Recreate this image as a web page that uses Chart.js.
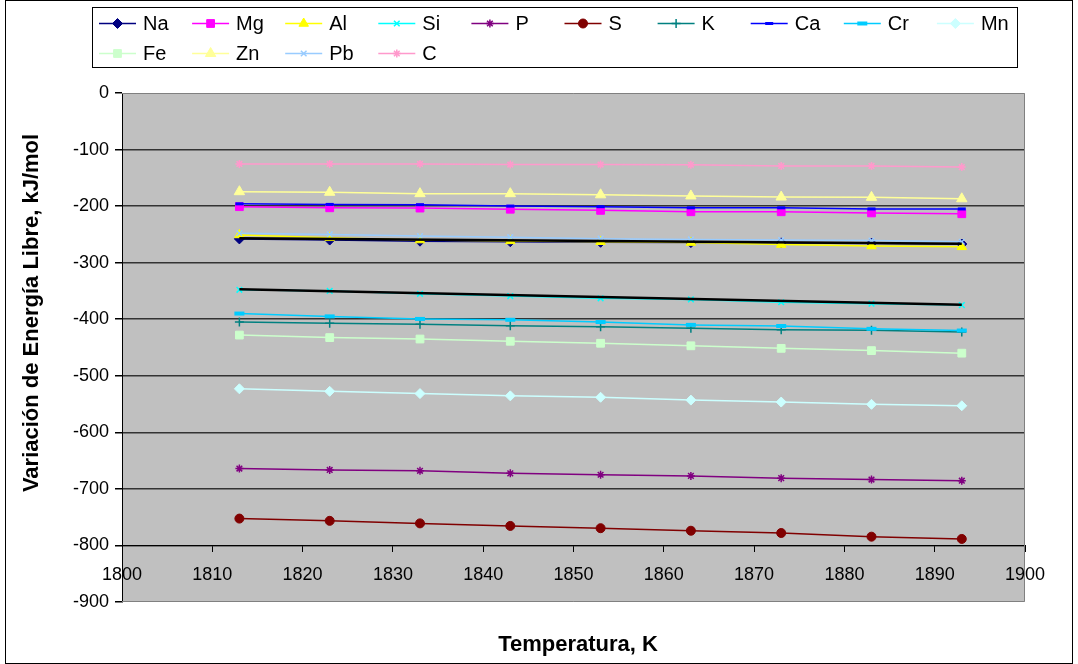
<!DOCTYPE html>
<html>
<head>
<meta charset="utf-8">
<title>Variación de Energía Libre</title>
<script src="https://cdn.jsdelivr.net/npm/chart.js"></script>
<style>
  html, body { margin: 0; padding: 0; background: #ffffff; }
  #wrap { width: 1078px; height: 664px; }
</style>
</head>
<body>
<div id="wrap"><canvas id="energyChart" width="1078" height="664"></canvas></div>
<script>
// Temperatures (K) and free-energy change (kJ/mol) per element
const temps = [1813, 1823, 1833, 1843, 1853, 1863, 1873, 1883, 1893];
const na = [-258, -260, -262, -263, -264, -264.5, -265, -265.5, -267];
const mg = [-201, -203, -203.5, -205.5, -207.5, -210, -210, -212, -213.5];
const al = [-251, -256, -260, -261.5, -263, -264.5, -268, -270.5, -272];
const si = [-348, -350, -355, -359, -363, -365, -370, -372.5, -375];
const p = [-664, -666.5, -668, -672.5, -675, -677, -681, -683.5, -685.5];
const s = [-752.5, -756.5, -761, -765.5, -769.5, -774, -778, -784.5, -788.5];
const k = [-405, -407, -409, -411.5, -413.5, -416, -418.5, -419.5, -422.5];
const ca = [-196, -197, -197.5, -200, -201, -203, -203, -205, -205];
const cr = [-390, -395, -399.5, -401, -405, -410, -412, -417, -420];
const mn = [-523, -527.5, -531.5, -535.5, -538, -543, -546.5, -550.5, -553];
const fe = [-428, -432.5, -435, -439, -442.5, -447, -451.5, -455.5, -460];
const zn = [-174.5, -175.5, -178, -178, -180, -182, -184, -184.5, -187];
const pb = [-248, -250, -253, -255, -257.5, -259, -260, -261, -263];
const c = [-125.5, -125.5, -125.5, -126.5, -126.5, -127, -129, -129, -131];

// black trend lines (start / end)
const trendTemps = [1813, 1893];
const trendNa = [-257, -266.5];
const trendSi = [-347, -374.5];

const xTicks = [1800, 1810, 1820, 1830, 1840, 1850, 1860, 1870, 1880, 1890, 1900];
const yTicks = [0, -100, -200, -300, -400, -500, -600, -700, -800, -900];

const series = [
    { label: 'Na', data: na, color: '#000080', style: 'rectRot', radius: 5 },
    { label: 'Mg', data: mg, color: '#FF00FF', style: 'rect', radius: 5.5 },
    { label: 'Al', data: al, color: '#FFFF00', style: 'triangle', radius: 5.5 },
    { label: 'Si', data: si, color: '#00FFFF', style: 'crossRot', radius: 4, border: 1.5 },
    { label: 'P', data: p, color: '#800080', style: 'star', radius: 4, border: 1.5 },
    { label: 'S', data: s, color: '#800000', style: 'circle', radius: 4.5 },
    { label: 'K', data: k, color: '#008080', style: 'cross', radius: 4.5, border: 1.5 },
    { label: 'Ca', data: ca, color: '#0000FF', style: 'line', radius: 4, border: 3 },
    { label: 'Cr', data: cr, color: '#00CCFF', style: 'line', radius: 5, border: 4 },
    { label: 'Mn', data: mn, color: '#CCFFFF', style: 'rectRot', radius: 5 },
    { label: 'Fe', data: fe, color: '#CCFFCC', style: 'rect', radius: 5.5 },
    { label: 'Zn', data: zn, color: '#FFFF99', style: 'triangle', radius: 6 },
    { label: 'Pb', data: pb, color: '#99CCFF', style: 'crossRot', radius: 4, border: 1.5 },
    { label: 'C', data: c, color: '#FF99CC', style: 'star', radius: 4, border: 1.5 }
];

const toPoints = (xs, ys) => ys.map((y, i) => ({ x: xs[i], y: y }));

const datasets = series.map((sr, i) => ({
    label: sr.label,
    data: toPoints(temps, sr.data),
    borderColor: sr.color,
    backgroundColor: sr.color,
    borderWidth: 1.5,
    pointStyle: sr.style,
    pointRadius: sr.radius,
    pointBackgroundColor: sr.color,
    pointBorderColor: sr.color,
    pointBorderWidth: sr.border || 1,
    tension: 0,
    order: 20 - i
}));

[trendNa, trendSi].forEach(tr => {
    datasets.push({
        label: '',
        data: toPoints(trendTemps, tr),
        borderColor: '#000000',
        borderWidth: 2.5,
        pointRadius: 0,
        order: 0
    });
});

const FONT = 'Liberation Sans, Arial, sans-serif';

// grey plot area and frame
const plotArea = {
    id: 'plotArea',
    beforeDraw(chart) {
        const a = chart.chartArea;
        const ctx = chart.ctx;
        ctx.save();
        ctx.fillStyle = '#C0C0C0';
        ctx.fillRect(a.left, a.top, a.right - a.left, a.bottom - a.top);
        ctx.restore();
    },
    beforeDatasetsDraw(chart) {
        const a = chart.chartArea;
        const ctx = chart.ctx;
        ctx.save();
        ctx.strokeStyle = '#808080';
        ctx.lineWidth = 1;
        ctx.beginPath();
        ctx.moveTo(a.left, a.top + 0.5);
        ctx.lineTo(a.right - 0.5, a.top + 0.5);
        ctx.lineTo(a.right - 0.5, a.bottom - 0.5);
        ctx.lineTo(a.left, a.bottom - 0.5);
        ctx.stroke();
        ctx.restore();
    }
};

// boxed legend with line + marker samples, titles and outer border
const decorations = {
    id: 'decorations',
    afterDraw(chart) {
        const ctx = chart.ctx;
        ctx.save();

        ctx.strokeStyle = '#000000';
        ctx.lineWidth = 1;
        ctx.strokeRect(5.5, 0.5, 1067, 663);

        ctx.fillStyle = '#ffffff';
        ctx.fillRect(92, 7, 926, 61);
        ctx.strokeRect(92.5, 7.5, 925, 60);

        ctx.font = '20px ' + FONT;
        ctx.textBaseline = 'middle';
        ctx.textAlign = 'left';
        let n = 0;
        chart.data.datasets.forEach(ds => {
            if (!ds.label) return;
            const col = n % 10;
            const row = Math.floor(n / 10);
            const x0 = 99 + col * 93.1;
            const y0 = 23.5 + row * 30;
            ctx.strokeStyle = ds.borderColor;
            ctx.lineWidth = 1.5;
            ctx.beginPath();
            ctx.moveTo(x0, y0);
            ctx.lineTo(x0 + 37, y0);
            ctx.stroke();
            ctx.fillStyle = ds.pointBackgroundColor;
            ctx.strokeStyle = ds.pointBorderColor;
            ctx.lineWidth = ds.pointBorderWidth;
            Chart.helpers.drawPoint(ctx, {
                pointStyle: ds.pointStyle,
                radius: ds.pointRadius,
                rotation: 0,
                borderWidth: ds.pointBorderWidth
            }, x0 + 18.5, y0);
            ctx.fillStyle = '#000000';
            ctx.fillText(ds.label, x0 + 44, y0 + 1);
            n++;
        });

        ctx.font = 'bold 22px ' + FONT;
        ctx.fillStyle = '#000000';
        ctx.textAlign = 'center';
        ctx.textBaseline = 'middle';
        ctx.fillText('Temperatura, K', 578, 645);

        ctx.translate(32, 313);
        ctx.rotate(-Math.PI / 2);
        ctx.fillText('Variación de Energía Libre, kJ/mol', 0, 0);
        ctx.restore();
    }
};

new Chart(document.getElementById('energyChart'), {
    type: 'line',
    data: { datasets: datasets },
    options: {
        responsive: false,
        animation: false,
        layout: { padding: { left: 0, top: 93, right: 53, bottom: 62 } },
        plugins: {
            legend: { display: false },
            tooltip: { enabled: false }
        },
        scales: {
            x: {
                type: 'linear',
                position: { y: -800 },
                min: 1800,
                max: 1900,
                afterBuildTicks: scale => { scale.ticks = xTicks.map(v => ({ value: v })); },
                grid: { display: true, drawOnChartArea: false, drawTicks: true, tickLength: 6, color: '#000000' },
                border: { display: true, color: '#000000', width: 1 },
                ticks: {
                    color: '#000000',
                    font: { family: FONT, size: 18 },
                    padding: 13,
                    maxRotation: 0,
                    callback: v => String(v)
                }
            },
            y: {
                min: -900,
                max: 0,
                afterBuildTicks: scale => { scale.ticks = yTicks.map(v => ({ value: v })); },
                afterFit: scale => { scale.width = 122; },
                grid: {
                    color: ctx => (ctx.tick && (ctx.tick.value === 0 || ctx.tick.value === -900)) ? 'rgba(0,0,0,0)' : '#333333',
                    lineWidth: 1.5,
                    tickColor: '#000000',
                    tickLength: 7
                },
                border: { display: true, color: '#000000', width: 1 },
                ticks: {
                    color: '#000000',
                    font: { family: FONT, size: 18 },
                    padding: 6,
                    callback: v => String(v)
                }
            }
        }
    },
    plugins: [plotArea, decorations]
});
</script>
</body>
</html>
